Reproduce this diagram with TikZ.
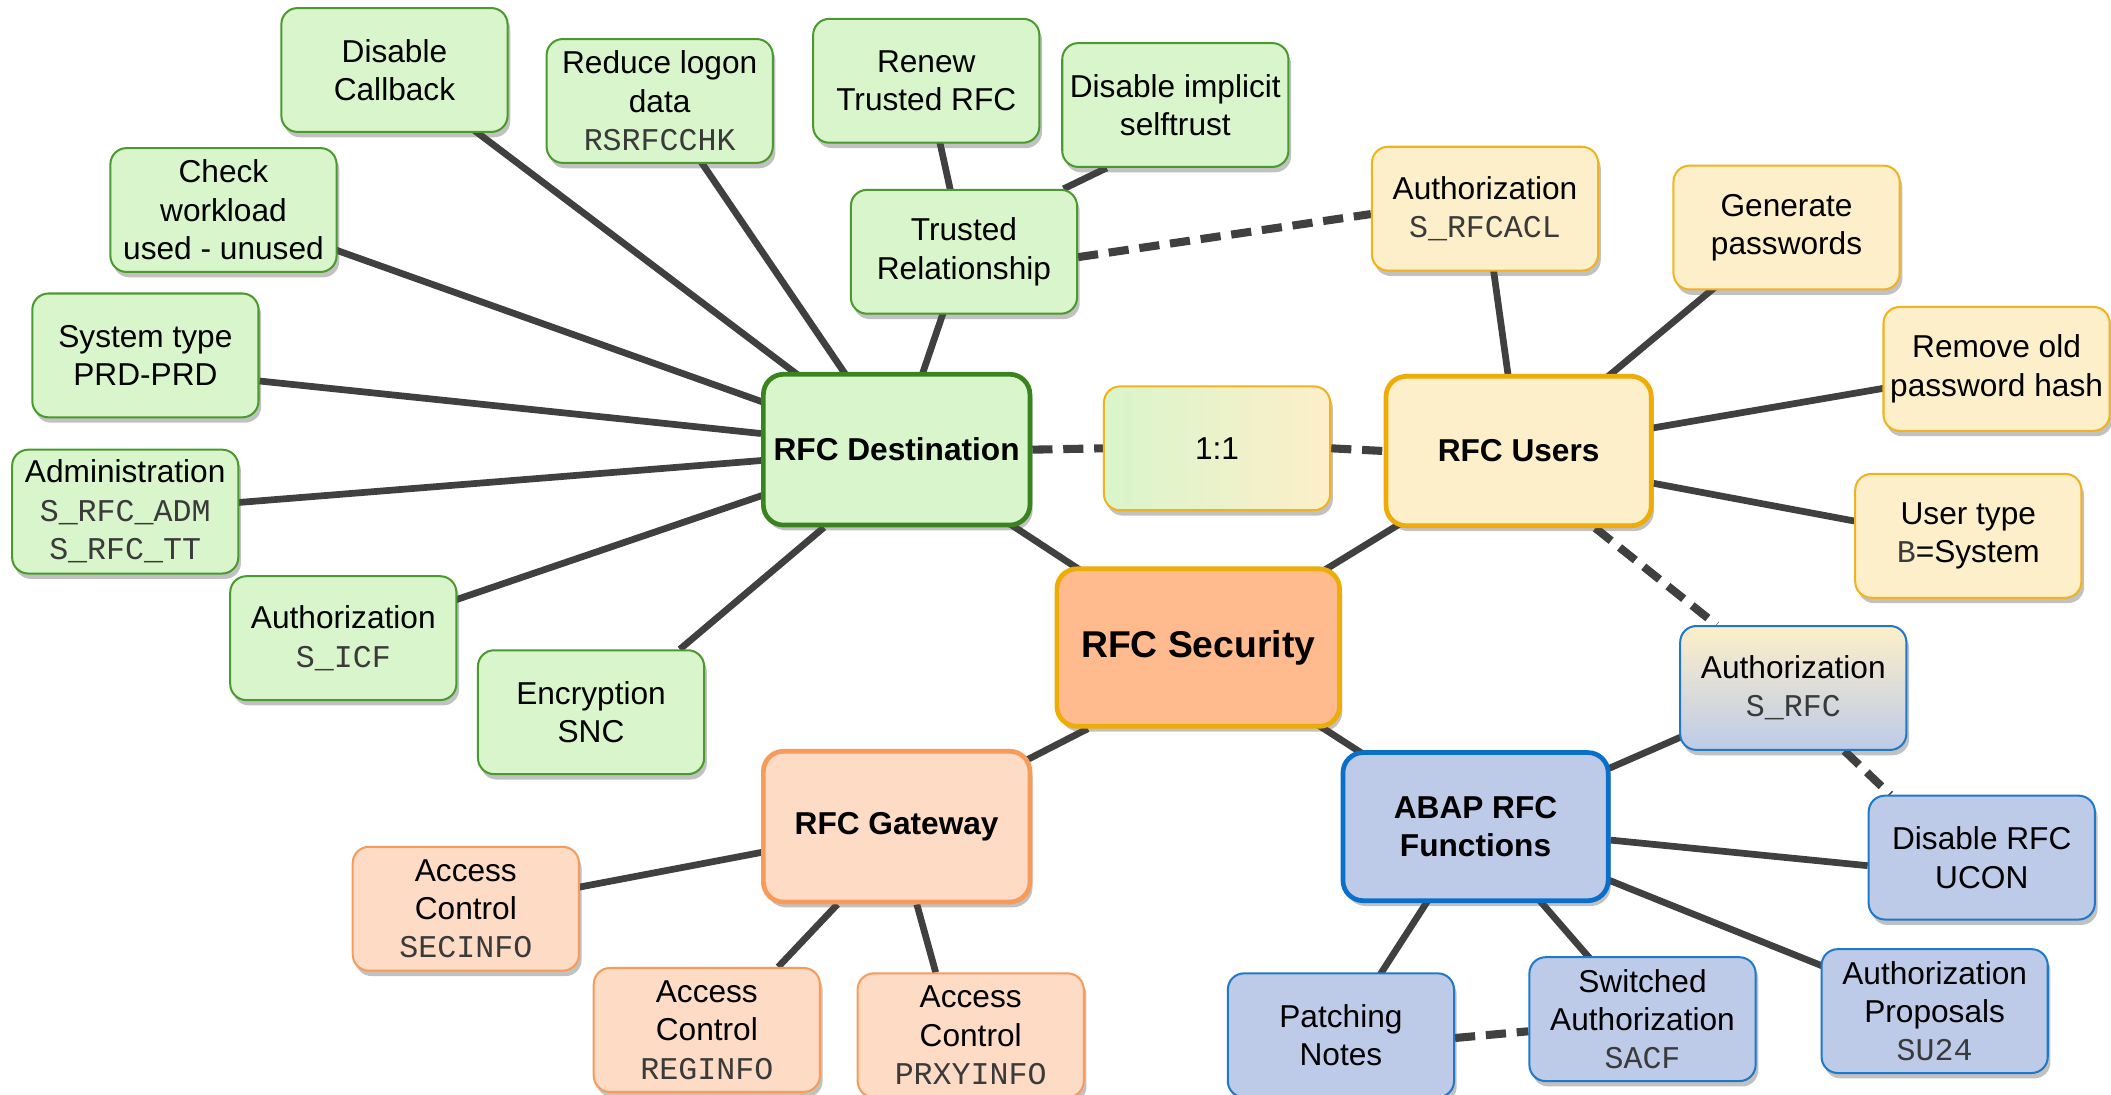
\documentclass[tikz,border=0pt]{standalone}
\usepackage{fontspec}
\setmainfont{Liberation Sans}
\setmonofont{Liberation Mono}
\usetikzlibrary{shadows,backgrounds}
\definecolor{gfill}{HTML}{D9F5CB}
\definecolor{gline}{HTML}{4A9A2E}
\definecolor{gdark}{HTML}{3A8420}
\definecolor{yfill}{HTML}{FDEFC9}
\definecolor{yline}{HTML}{F1B31C}
\definecolor{ydark}{HTML}{EDAC08}
\definecolor{sfill}{HTML}{FFBA8E}
\definecolor{ofill}{HTML}{FDDBC4}
\definecolor{oline}{HTML}{F79B5B}
\definecolor{bfill}{HTML}{BDCBE8}
\definecolor{bline}{HTML}{2079C8}
\definecolor{bdark}{HTML}{0A6FC8}
\definecolor{conncol}{HTML}{404040}
\definecolor{monogray}{HTML}{3A3A3A}
\newcommand\mc[1]{{\ttfamily\color{monogray}#1}}
\newcommand\nf{\fontsize{23.5}{28.5}\selectfont}
\tikzset{
  box/.style={rounded corners=12pt, minimum width=168pt, minimum height=92pt,
    align=center, line width=1.5pt, font=\nf, inner sep=2pt,
    drop shadow={shadow xshift=2pt, shadow yshift=-4pt, opacity=0.35, fill=black!70}},
  gbox/.style={box, fill=gfill, draw=gline},
  ybox/.style={box, fill=yfill, draw=yline},
  obox/.style={box, fill=ofill, draw=oline},
  bbox/.style={box, fill=bfill, draw=bline},
  hub/.style={line width=3.5pt, rounded corners=15pt, minimum width=198pt,
    minimum height=112pt, font=\nf\bfseries},
  conn/.style={draw=conncol, line width=5pt},
  dconn/.style={draw=conncol, line width=6pt, dash pattern=on 15pt off 8pt}
}
\begin{document}
\begin{tikzpicture}[x=1pt,y=-1pt]
\useasboundingbox (0,0) rectangle (1568,813);
% green
\node[gbox] (dc) at (293,52) {Disable\\Callback};
\node[gbox] (rl) at (490,75) {Reduce logon\\data\\\mc{RSRFCCHK}};
\node[gbox] (rt) at (688,60) {Renew\\Trusted RFC};
\node[gbox] (di) at (873,78) {Disable implicit\\selftrust};
\node[gbox] (cw) at (166,156) {Check\\workload\\used - unused};
\node[gbox] (tr) at (716,187) {Trusted\\Relationship};
\node[gbox] (st) at (108,264) {System type\\PRD-PRD};
\node[gbox] (ad) at (93,380) {Administration\\\mc{S\_RFC\_ADM}\\\mc{S\_RFC\_TT}};
\node[gbox] (ai) at (255,474) {Authorization\\\mc{S\_ICF}};
\node[gbox] (en) at (439,529) {Encryption\\SNC};
\node[gbox, hub, draw=gdark] (rd) at (666,334) {RFC Destination};
% yellow
\node[ybox] (ra) at (1103,155) {Authorization\\\mc{S\_RFCACL}};
\node[ybox] (gp) at (1327,169) {Generate\\passwords};
\node[ybox] (ro) at (1483,274) {Remove old\\password hash};
\node[ybox] (ut) at (1462,398) {User type\\\mc{B}=System};
\node[ybox, hub, draw=ydark, minimum width=197pt, minimum height=111pt] (ru) at (1128,335) {RFC Users};
\node[box, draw=yline, left color=gfill, right color=yfill] (oo) at (904,333) {1:1};
% orange
\node[box, hub, fill=sfill, draw=ydark, minimum width=210pt, minimum height=117pt,
  font=\fontsize{27.7}{32}\selectfont\bfseries] (rs) at (890,481) {RFC Security};
\node[obox, hub] (gw) at (666,614) {RFC Gateway};
\node[obox] (sec) at (346,675) {Access\\Control\\\mc{SECINFO}};
\node[obox] (reg) at (525,765) {Access\\Control\\\mc{REGINFO}};
\node[obox] (prx) at (721,769) {Access\\Control\\\mc{PRXYINFO}};
% blue
\node[bbox, hub, draw=bdark, minimum width=197pt, minimum height=110pt] (ab) at (1096,614) {ABAP RFC\\Functions};
\node[box, draw=bline, top color=yfill, bottom color=bfill, middle color=yfill!50!bfill] (sr) at (1332,511) {Authorization\\\mc{S\_RFC}};
\node[bbox] (uc) at (1472,637) {Disable RFC\\UCON};
\node[bbox] (ap) at (1437,751) {Authorization\\Proposals\\\mc{SU24}};
\node[bbox] (sa) at (1220,757) {Switched\\Authorization\\\mc{SACF}};
\node[bbox] (pn) at (996,769) {Patching\\Notes};
\begin{scope}[on background layer]
% RFC Destination
\draw[conn] (dc.center) -- (rd.center);
\draw[conn] (rl.center) -- (rd.center);
\draw[conn] (tr.center) -- (rd.center);
\draw[conn] (rt.center) -- (tr.center);
\draw[conn] ([xshift=-51pt]di.south) -- ([xshift=74pt]tr.north);
\draw[conn] (cw.center) -- (rd.center);
\draw[conn] ([yshift=-19pt]st.east) -- ([yshift=12pt]rd.west);
\draw[conn] (ad.center) -- (rd.center);
\draw[conn] (ai.center) -- (rd.center);
\draw[conn] ([xshift=66pt]en.north) -- ([xshift=-54pt]rd.south);
\draw[conn] (rd.center) -- (rs.center);
\draw[dconn] (rd.east) -- (oo.west);
\draw[dconn] (oo.east) -- (ru.west);
\draw[dconn] ([yshift=-4pt]tr.east) -- ([yshift=-4pt]ra.west);
% RFC Users
\draw[conn] (ra.center) -- (ru.center);
\draw[conn] (gp.center) -- (ru.center);
\draw[conn] (ro.center) -- (ru.center);
\draw[conn] ([yshift=-24pt]ru.east) -- ([yshift=11pt]ut.west);
\draw[conn] (ru.center) -- (rs.center);
\draw[dconn] ([xshift=57pt]ru.south) -- ([xshift=-57pt]sr.north);
\draw[dconn] ([xshift=38pt]sr.south) -- ([xshift=-68pt]uc.north);
% RFC Security
\draw[conn] ([xshift=-82pt]rs.south) -- (gw.center);
\draw[conn] (rs.center) -- (ab.center);
% ABAP
\draw[conn] (ab.center) -- (sr.center);
\draw[conn] ([yshift=-10pt]ab.east) -- ([yshift=-6pt]uc.west);
\draw[conn] (ab.center) -- (ap.center);
\draw[conn] (ab.center) -- (sa.center);
\draw[conn] (ab.center) -- (pn.center);
\draw[dconn] ([yshift=-2pt]pn.east) -- ([yshift=-9pt]sa.west);
% Gateway
\draw[conn] (gw.center) -- (sec.center);
\draw[conn] ([xshift=-44pt]gw.south) -- ([xshift=53pt]reg.north);
\draw[conn] ([xshift=15pt]gw.south) -- ([xshift=-26pt]prx.north);
\end{scope}
\end{tikzpicture}
\end{document}
